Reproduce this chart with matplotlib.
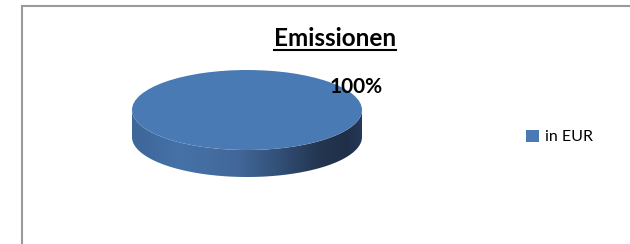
import numpy as np
import matplotlib
matplotlib.use("Agg")
import matplotlib.pyplot as plt
from matplotlib.patches import Polygon, Rectangle
from matplotlib.colors import LinearSegmentedColormap
from matplotlib.lines import Line2D

# ---- data ----
categories = ["in EUR"]
values = [100]
title = "Emissionen"

plt.rcParams['font.family'] = ['Lato', 'DejaVu Sans']

W, H = 630, 244
fig = plt.figure(figsize=(W / 100, H / 100), dpi=100)
fig.patch.set_facecolor('white')

# axes covering whole figure, scaled so a unit circle becomes the ellipse
cx, cy = 247, 134          # ellipse centre (px from left / bottom)
ax_rx, ax_ry = 115, 40     # semi axes in px
depth = 27 / ax_ry         # side depth in data units
ax = fig.add_axes([0, 0, 1, 1])

top_color = '#4a7ab3'
wedges, _, autotexts = ax.pie(values, colors=[top_color], startangle=0,
                              counterclock=True, autopct='%1.0f%%',
                              wedgeprops=dict(linewidth=0), radius=1,
                              textprops=dict(fontsize=15, fontweight='bold',
                                             color='black'))
ax.set_aspect('auto')
ax.axis('off')

# ---- 3D side of the pie (front half) ----
side_cmap = LinearSegmentedColormap.from_list(
    'side', [(0.0, '#3d6698'), (0.2, '#4672a8'), (0.45, '#42689a'),
             (0.62, '#34527a'), (0.8, '#243752'), (0.93, '#1f2f47'),
             (1.0, '#25395a')])
total = sum(values)
start = 0.0
for v in values:
    t0 = start
    t1 = start + 360.0 * v / total
    start = t1
    lo, hi = max(t0, 180.0), min(t1, 360.0)
    if hi <= lo:
        continue
    th = np.radians(np.linspace(lo, hi, 200))
    xs, ys = np.cos(th), np.sin(th)
    pts = np.concatenate([np.column_stack([xs, ys]),
                          np.column_stack([xs[::-1], ys[::-1] - depth])])
    poly = Polygon(pts, closed=True, facecolor='none', edgecolor='none', zorder=0.5)
    ax.add_patch(poly)
    grad = np.linspace(0, 1, 256).reshape(1, -1)
    im = ax.imshow(grad, cmap=side_cmap, aspect='auto',
                   extent=[-1, 1, -1 - depth, 0.2], zorder=0.5,
                   interpolation='bilinear')
    im.set_clip_path(poly)
for w in wedges:
    w.set_zorder(1)

# percentage label (top right of the pie)
for t in autotexts:
    t.set_position((0.95, 0.575))
    t.set_ha('center')
    t.set_va('center')
    t.set_zorder(3)

ax.set_xlim(-cx / ax_rx, (W - cx) / ax_rx)
ax.set_ylim(-cy / ax_ry, (H - cy) / ax_ry)

# ---- title with underline ----
ttl = fig.text(335 / W, (H - 39) / H, title, ha='center', va='center',
               fontsize=17.5, fontweight='bold', color='black')
fig.canvas.draw()
bb = ttl.get_window_extent(fig.canvas.get_renderer())
uy = (H - 50) / H
fig.add_artist(Line2D([bb.x0 / W, bb.x1 / W], [uy, uy], transform=fig.transFigure,
                      color='black', linewidth=1.5))

# ---- legend ----
fig.legend(wedges, categories, loc='center left',
           bbox_to_anchor=(526 / W, (H - 137) / H), frameon=False,
           fontsize=11.5, handlelength=0.8, handleheight=0.8,
           handletextpad=0.4, borderpad=0, borderaxespad=0)

# ---- chart border (only top/left visible) ----
fig.add_artist(Rectangle((22 / W, -0.1), 1.2, (H - 6) / H + 0.1,
                         transform=fig.transFigure, fill=False,
                         edgecolor='#9a9a9a', linewidth=1.5))

fig.savefig('out.png', dpi=100, facecolor='white')
